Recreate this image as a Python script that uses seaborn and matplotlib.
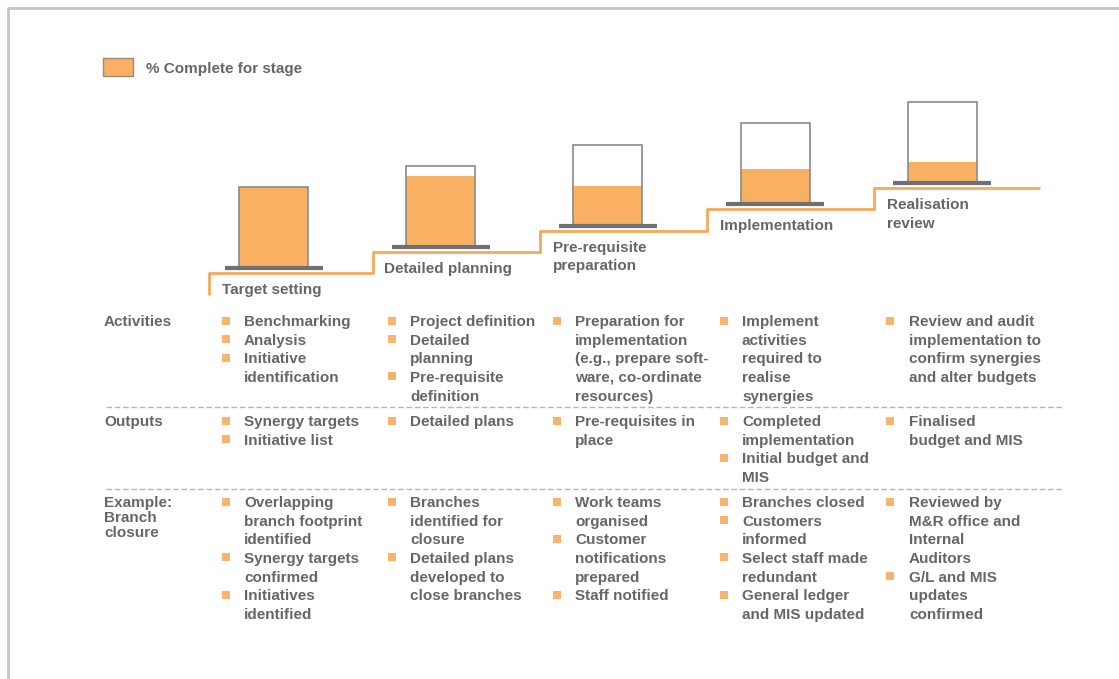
import matplotlib
matplotlib.use("Agg")
import matplotlib.pyplot as plt
from matplotlib.patches import Rectangle
import seaborn as sns

# ---- data -------------------------------------------------------------
stages = ["Target setting", "Detailed planning", "Pre-requisite\npreparation",
          "Implementation", "Realisation\nreview"]
pct_complete = [100, 87, 49, 44, 26]
legend_label = "% Complete for stage"

row_labels = ["Activities", "Outputs", "Example:\nBranch\nclosure"]

activities = [
    ["Benchmarking", "Analysis", "Initiative\nidentification"],
    ["Project definition", "Detailed\nplanning", "Pre-requisite\ndefinition"],
    ["Preparation for\nimplementation\n(e.g., prepare soft-\nware, co-ordinate\nresources)"],
    ["Implement\nactivities\nrequired to\nrealise\nsynergies"],
    ["Review and audit\nimplementation to\nconfirm synergies\nand alter budgets"],
]
outputs = [
    ["Synergy targets", "Initiative list"],
    ["Detailed plans"],
    ["Pre-requisites in\nplace"],
    ["Completed\nimplementation", "Initial budget and\nMIS"],
    ["Finalised\nbudget and MIS"],
]
examples = [
    ["Overlapping\nbranch footprint\nidentified", "Synergy targets\nconfirmed",
     "Initiatives\nidentified"],
    ["Branches\nidentified for\nclosure", "Detailed plans\ndeveloped to\nclose branches"],
    ["Work teams\norganised", "Customer\nnotifications\nprepared", "Staff notified"],
    ["Branches closed", "Customers\ninformed", "Select staff made\nredundant",
     "General ledger\nand MIS updated"],
    ["Reviewed by\nM&R office and\nInternal\nAuditors", "G/L and MIS\nupdates\nconfirmed"],
]
table_rows = [activities, outputs, examples]

# ---- style ------------------------------------------------------------
sns.set_theme(style="white")
plt.rcParams["font.family"] = ["Liberation Sans", "DejaVu Sans"]

ORANGE = "#F9B063"
LINE_ORANGE = "#F5A85C"
BULLET = "#F7B46E"
TEXT = "#666666"
PLATFORM = "#6E7073"
OUTLINE = "#8A8A8A"
FS = 11
DY = 2  # nudge so the visual centre of caps sits on the row line

W, H = 1119, 679
fig = plt.figure(figsize=(W / 100, H / 100), dpi=100)
ax = fig.add_axes([0, 0, 1, 1])
ax.set_xlim(0, W)
ax.set_ylim(H, 0)  # y grows downward, in pixels
ax.axis("off")


def label(x, y, s):
    ax.text(x, y + DY, s, fontsize=FS, fontweight="bold", color=TEXT,
            ha="left", va="center")


# frame
ax.plot([8, 8, W], [H, 8, 8], color="#C4C4C4", lw=2, solid_capstyle="butt")

# ---- staircase with stage boxes ---------------------------------------
n = len(stages)
x0, dx = 273.5, 167.2          # stage centres
base0, dbase = 268.0, -21.2    # platform heights
box_w, box_h, plat_w = 69, 81, 98
centers = [x0 + dx * i for i in range(n)]
bases = [base0 + dbase * i for i in range(n)]

# orange step line
sx, sy = [centers[0] - 65, centers[0] - 65], [bases[0] + 26, bases[0] + 5]
for i in range(1, n):
    left = centers[i] - 68
    sx += [left, left]
    sy += [bases[i - 1] + 5, bases[i] + 5]
sx.append(centers[-1] + 97)
sy.append(bases[-1] + 5)
sns.lineplot(x=sx, y=sy, ax=ax, sort=False, estimator=None,
             color=LINE_ORANGE, lw=2, legend=False)

fill_px = [p / 100 * box_h for p in pct_complete]
ax.bar(centers, [-f for f in fill_px], bottom=bases, width=box_w,
       color=ORANGE, edgecolor="none", zorder=3)
ax.bar(centers, [-box_h] * n, bottom=bases, width=box_w,
       facecolor="none", edgecolor=OUTLINE, lw=1.2, zorder=4)
for c, b in zip(centers, bases):
    ax.plot([c - plat_w / 2, c + plat_w / 2], [b, b], color=PLATFORM,
            lw=3, solid_capstyle="butt", zorder=5)

# stage names below each step
label_dx = [-51, -57, -55, -55, -55]
for i, name in enumerate(stages):
    for k, line in enumerate(name.split("\n")):
        label(centers[i] + label_dx[i], bases[i] + 20 + k * 18.6, line)

# legend
ax.add_patch(Rectangle((103, 58), 30, 18, facecolor=ORANGE,
                       edgecolor="#9A8A78", lw=1))
label(146, 66.5, legend_label)

# ---- table of activities / outputs / example ----------------------------
row_y = [320, 420, 501]
line_h = 18.65
bullet_x = [226, 392, 557, 724, 890]
text_x = [244, 410, 575, 742, 909]

for r, (rlabel, cols) in enumerate(zip(row_labels, table_rows)):
    for k, line in enumerate(rlabel.split("\n")):
        label(104, row_y[r] + k * 15, line)
    for c, items in enumerate(cols):
        y = row_y[r]
        for item in items:
            ax.add_patch(Rectangle((bullet_x[c] - 4, y - 3.5), 8, 8,
                                   facecolor=BULLET, edgecolor="none"))
            for line in item.split("\n"):
                label(text_x[c], y, line)
                y += line_h

for yy in (407, 489):
    ax.plot([106, 1063], [yy, yy], color="#B5B5B5", lw=1,
            linestyle=(0, (4, 2)))

fig.savefig("out.png", dpi=100, facecolor="white")
